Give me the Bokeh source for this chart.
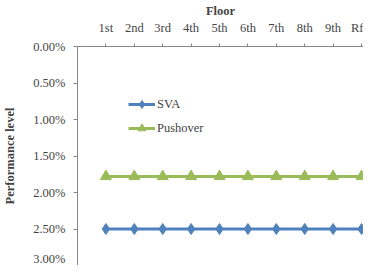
from bokeh.plotting import figure
from bokeh.models import Range1d, FixedTicker, NumeralTickFormatter, Legend, LegendItem, ColumnDataSource
from bokeh.embed import file_html
from bokeh.resources import INLINE

floors = ["1st", "2nd", "3rd", "4th", "5th", "6th", "7th", "8th", "9th", "Rf"]
sva = [0.025] * 10
pushover = [0.0178] * 10
y_ticks = [0.0, 0.005, 0.01, 0.015, 0.02, 0.025, 0.03]

xpos = list(range(1, len(floors) + 1))
src = ColumnDataSource(dict(x=xpos, sva=sva, push=pushover))

FONT = "Liberation Serif"
BLUE = "#4F81BD"
GREEN = "#9BBB59"
AXC = "#868686"

p = figure(width=363, height=265, output_backend="svg", toolbar_location=None,
           x_range=Range1d(0, 10.07), y_range=Range1d(0.03, 0.0),
           x_axis_location="above", min_border_left=69, min_border_top=38,
           min_border_bottom=0, min_border_right=0)
p.outline_line_color = None
p.grid.visible = False

r1 = p.line("x", "sva", source=src, line_color=BLUE, line_width=3)
m1 = p.scatter("x", "sva", source=src, marker="diamond", size=11, fill_color=BLUE, line_color=BLUE)
r2 = p.line("x", "push", source=src, line_color=GREEN, line_width=3)
m2 = p.scatter("x", "push", source=src, marker="triangle", size=11, fill_color=GREEN, line_color=GREEN)

xa = p.xaxis[0]
xa.ticker = FixedTicker(ticks=xpos)
xa.major_label_overrides = {i + 1: f for i, f in enumerate(floors)}
xa.axis_label = "Floor"
xa.axis_label_text_font = FONT
xa.axis_label_text_font_style = "bold"
xa.axis_label_text_font_size = "12.5px"
xa.axis_label_standoff = 0
xa.major_label_text_font = FONT
xa.major_label_text_font_size = "12.5px"
xa.major_label_standoff = 9
xa.major_tick_out = 3
xa.major_tick_in = 0
xa.minor_tick_out = 0
xa.minor_tick_in = 0
xa.axis_line_color = AXC
xa.major_tick_line_color = AXC

ya = p.yaxis[0]
ya.ticker = FixedTicker(ticks=y_ticks)
ya.formatter = NumeralTickFormatter(format="0.00%")
ya.axis_label = "Performance level"
ya.axis_label_text_font = FONT
ya.axis_label_text_font_style = "bold"
ya.axis_label_text_font_size = "12.5px"
ya.axis_label_standoff = 13
ya.major_label_text_font = FONT
ya.major_label_text_font_size = "12.5px"
ya.major_label_standoff = 8
ya.major_tick_out = 4
ya.major_tick_in = 0
ya.minor_tick_out = 0
ya.minor_tick_in = 0
ya.axis_line_color = AXC
ya.major_tick_line_color = AXC

legend = Legend(items=[LegendItem(label="SVA", renderers=[r1, m1]),
                       LegendItem(label="Pushover", renderers=[r2, m2])],
                location=(51, 127), padding=0, margin=0, spacing=4,
                glyph_width=27, glyph_height=20, label_height=20, label_standoff=2,
                label_text_font=FONT, label_text_font_size="12.5px",
                border_line_color=None, background_fill_alpha=0)
p.add_layout(legend)

open("out.html", "w").write(file_html(p, INLINE))
